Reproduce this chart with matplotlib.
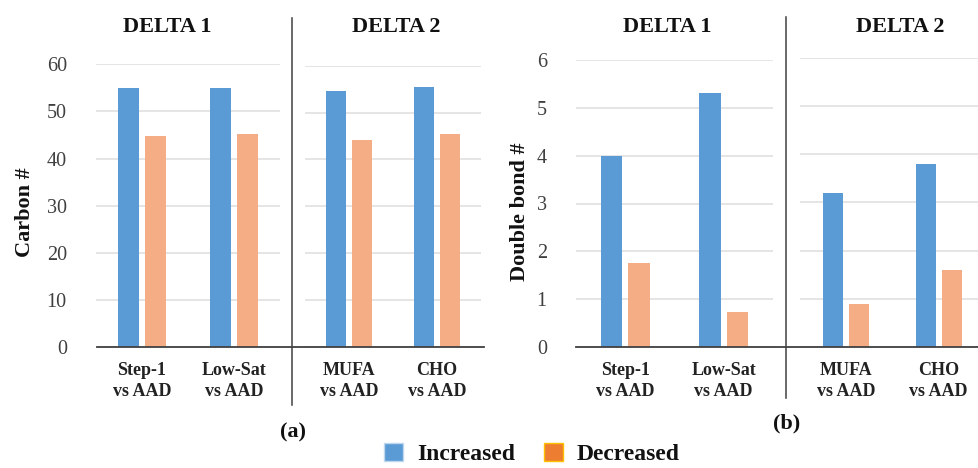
import matplotlib
matplotlib.use("Agg")
import matplotlib.pyplot as plt
from matplotlib.lines import Line2D
from matplotlib.patches import Patch
import numpy as np

plt.rcParams['font.family'] = ['Liberation Serif', 'DejaVu Serif']

# ---- data ----
delta1_cats = ["Step-1\nvs AAD", "Low-Sat\nvs AAD"]
delta2_cats = ["MUFA\nvs AAD", "CHO\nvs AAD"]
carbon_inc_d1 = [55.0, 54.9]
carbon_dec_d1 = [44.8, 45.2]
carbon_inc_d2 = [54.6, 55.4]
carbon_dec_d2 = [44.1, 45.5]
dbond_inc_d1 = [4.0, 5.3]
dbond_dec_d1 = [1.75, 0.73]
dbond_inc_d2 = [3.2, 3.8]
dbond_dec_d2 = [0.89, 1.6]
carbon_ticks = [0, 10, 20, 30, 40, 50, 60]
dbond_ticks = [0, 1, 2, 3, 4, 5, 6]
series_names = ["Increased", "Decreased"]
group_titles = ["DELTA 1", "DELTA 2"]

BLUE = "#5B9BD5"
ORANGE = "#F4AD85"
LEG_ORANGE = "#ED7D31"
GRID = "#E0E0E0"
DARK = "#404040"

W, H = 979, 468
fig = plt.figure(figsize=(W / 100, H / 100), dpi=100)


def px_axes(x0, x1, y_top, y_bot):
    return fig.add_axes([x0 / W, 1 - y_bot / H, (x1 - x0) / W, (y_bot - y_top) / H])


def draw_sub(ax, cats, inc, dec, ticks, width, off, show_y, title, title_x):
    x = np.arange(len(cats))
    ax.bar(x - off, inc, width, color=BLUE, zorder=3)
    ax.bar(x + off, dec, width, color=ORANGE, zorder=3)
    ax.set_xlim(-0.5, len(cats) - 0.5)
    ax.set_ylim(ticks[0], ticks[-1])
    ax.set_yticks(ticks)
    ax.yaxis.grid(True, color=GRID, linewidth=1.2, zorder=0)
    ax.set_axisbelow(True)
    for s in ax.spines.values():
        s.set_visible(False)
    ax.set_xticks(x)
    ax.set_xticklabels(cats, fontsize=13, fontweight='bold', color="#222222", linespacing=1.3)
    ax.tick_params(axis='x', length=0, pad=11)
    if show_y:
        ax.tick_params(axis='y', length=0, pad=21, labelsize=14.5, labelcolor="#404040")
    else:
        ax.tick_params(axis='y', length=0, labelleft=False)
    fig.text(title_x / W, 1 - 27 / H, title, ha='center', va='center',
             fontsize=16, fontweight='bold', color="#111111")


# Panel (a)
ax = px_axes(96, 280, 64.3, 347)
draw_sub(ax, delta1_cats, carbon_inc_d1, carbon_dec_d1, carbon_ticks, 0.23, 0.145, True, group_titles[0], 167)
ax = px_axes(305, 481, 65.7, 347)
draw_sub(ax, delta2_cats, carbon_inc_d2, carbon_dec_d2, carbon_ticks, 0.23, 0.145, False, group_titles[1], 396)

# Panel (b)
ax = px_axes(576, 773, 60, 347)
draw_sub(ax, delta1_cats, dbond_inc_d1, dbond_dec_d1, dbond_ticks, 0.215, 0.14, True, group_titles[0], 667)
ax = px_axes(800, 985, 57.7, 347)
draw_sub(ax, delta2_cats, dbond_inc_d2, dbond_dec_d2, dbond_ticks, 0.215, 0.14, False, group_titles[1], 900)

# baselines and dividers
def fline(x0, y0, x1, y1, lw=1.3):
    fig.add_artist(Line2D([x0 / W, x1 / W], [1 - y0 / H, 1 - y1 / H], color=DARK, linewidth=lw, zorder=10))

fline(97, 347, 484, 347)
fline(576, 347, 979, 347)
fline(292, 18, 292, 405, 1.1)
fline(786, 17, 786, 398, 1.1)

# y labels
fig.text(25 / W, 1 - 212 / H, "Carbon #", rotation=90, ha='center', va='center',
         fontsize=16, fontweight='bold', color="#111111")
fig.text(520 / W, 1 - 212 / H, "Double bond #", rotation=90, ha='center', va='center',
         fontsize=16, fontweight='bold', color="#111111")

# panel labels
fig.text(293 / W, 1 - 432 / H, "(a)", ha='center', va='center', fontsize=16, fontweight='bold', color="#111111")
fig.text(787 / W, 1 - 423 / H, "(b)", ha='center', va='center', fontsize=16, fontweight='bold', color="#111111")

# legend
handles = [Patch(facecolor=BLUE, edgecolor="#BDD7EE", linewidth=1.0),
           Patch(facecolor=LEG_ORANGE, edgecolor="#FFC000", linewidth=1.0)]
leg = fig.legend(handles, series_names, loc='center', bbox_to_anchor=(532 / W, 1 - 454 / H),
                 ncol=2, frameon=False, prop={'size': 17, 'weight': 'bold'},
                 handlelength=0.8, handleheight=0.8, handletextpad=0.6, columnspacing=1.2,
                 borderpad=0.1)
for t in leg.get_texts():
    t.set_color("#111111")

fig.savefig("out.png", dpi=100)
